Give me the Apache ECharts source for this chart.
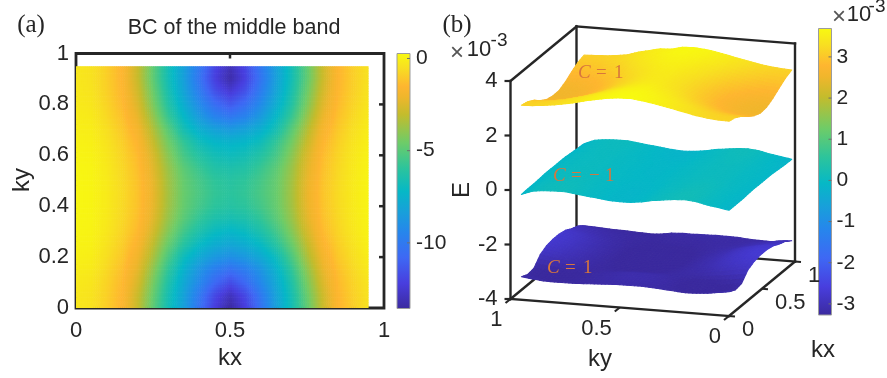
<!DOCTYPE html>
<html><head><meta charset="utf-8">
<style>html,body{margin:0;padding:0;background:#fff}#c{width:887px;height:378px}</style>
<script src="https://cdn.jsdelivr.net/npm/echarts@6/dist/echarts.min.js"></script>
</head><body><div id="c"></div>
<script>
// ---------- data ----------
const bcKx = [0,.05,.1,.15,.2,.25,.3,.35,.4,.45,.5,.55,.6,.65,.7,.75,.8,.85,.9,.95];
const bcKy = [0,.05,.1,.15,.2,.25,.3,.35,.4,.45,.5,.55,.6,.65,.7,.75,.8,.85,.9,.95];
const bcValues = [
[-.3,-.45,-.95,-1.6,-3,-4.9,-6.7,-8.3,-10.3,-12.2,-13.5,-12.2,-10.3,-8.3,-6.7,-4.9,-3,-1.6,-.95,-.45],
[-.28,-.42,-.9,-1.55,-2.9,-4.7,-6.6,-8.2,-10,-11.8,-12.9,-11.8,-10,-8.2,-6.6,-4.7,-2.9,-1.55,-.9,-.42],
[-.22,-.35,-.82,-1.45,-2.6,-4.4,-6.3,-7.9,-9.3,-10.7,-11.7,-10.7,-9.3,-7.9,-6.3,-4.4,-2.6,-1.45,-.82,-.35],
[-.12,-.22,-.7,-1.3,-2.3,-4,-5.9,-7.5,-8.8,-9.8,-10.4,-9.8,-8.8,-7.5,-5.9,-4,-2.3,-1.3,-.7,-.22],
[-.02,-.1,-.55,-1.1,-2,-3.5,-5.3,-6.9,-7.9,-8.6,-9,-8.6,-7.9,-6.9,-5.3,-3.5,-2,-1.1,-.55,-.1],
[.06,0,-.42,-.95,-1.7,-3.1,-4.7,-6.1,-7.1,-7.7,-8,-7.7,-7.1,-6.1,-4.7,-3.1,-1.7,-.95,-.42,0],
[.12,.05,-.3,-.8,-1.45,-2.7,-4.2,-5.5,-6.4,-7,-7.3,-7,-6.4,-5.5,-4.2,-2.7,-1.45,-.8,-.3,.05],
[.15,.08,-.24,-.72,-1.3,-2.4,-3.85,-5,-5.85,-6.4,-6.6,-6.4,-5.85,-5,-3.85,-2.4,-1.3,-.72,-.24,.08],
[.17,.1,-.2,-.67,-1.22,-2.25,-3.65,-4.75,-5.45,-5.95,-6.15,-5.95,-5.45,-4.75,-3.65,-2.25,-1.22,-.67,-.2,.1],
[.17,.1,-.2,-.65,-1.2,-2.2,-3.6,-4.7,-5.3,-5.8,-6,-5.8,-5.3,-4.7,-3.6,-2.2,-1.2,-.65,-.2,.1],
[.17,.1,-.2,-.67,-1.22,-2.25,-3.65,-4.75,-5.4,-5.9,-6.1,-5.9,-5.4,-4.75,-3.65,-2.25,-1.22,-.67,-.2,.1],
[.15,.08,-.24,-.72,-1.3,-2.4,-3.8,-4.95,-5.7,-6.25,-6.4,-6.25,-5.7,-4.95,-3.8,-2.4,-1.3,-.72,-.24,.08],
[.1,.03,-.3,-.8,-1.42,-2.6,-4.1,-5.4,-6.2,-6.7,-6.9,-6.7,-6.2,-5.4,-4.1,-2.6,-1.42,-.8,-.3,.03],
[.03,-.04,-.4,-.92,-1.6,-2.95,-4.5,-5.8,-6.8,-7.25,-7.4,-7.25,-6.8,-5.8,-4.5,-2.95,-1.6,-.92,-.4,-.04],
[-.05,-.12,-.52,-1.08,-1.85,-3.35,-5,-6.6,-7.6,-8.2,-8.5,-8.2,-7.6,-6.6,-5,-3.35,-1.85,-1.08,-.52,-.12],
[-.12,-.22,-.68,-1.25,-2.2,-3.85,-5.7,-7.2,-8.5,-9.5,-10,-9.5,-8.5,-7.2,-5.7,-3.85,-2.2,-1.25,-.68,-.22],
[-.2,-.32,-.8,-1.42,-2.5,-4.3,-6.2,-7.7,-9.2,-10.5,-11.3,-10.5,-9.2,-7.7,-6.2,-4.3,-2.5,-1.42,-.8,-.32],
[-.25,-.4,-.88,-1.52,-2.75,-4.6,-6.5,-8.1,-9.8,-11.5,-12.4,-11.5,-9.8,-8.1,-6.5,-4.6,-2.75,-1.52,-.88,-.4],
[-.28,-.44,-.93,-1.58,-2.95,-4.85,-6.7,-8.3,-10.2,-12.1,-13.3,-12.1,-10.2,-8.3,-6.7,-4.85,-2.95,-1.58,-.93,-.44],
[-.28,-.44,-.93,-1.58,-2.95,-4.85,-6.7,-8.3,-10,-11.9,-13,-11.9,-10,-8.3,-6.7,-4.85,-2.95,-1.58,-.93,-.44]
];
const surfKx = [0,.095,.19,.285,.38,.475,.57,.665,.76,.855,.95];
const surfKy = [0,.05,.1,.15,.2,.25,.3,.35,.4,.45,.5,.55,.6,.65,.7,.75,.8,.85,.9,.95];
const lowerBand = [
[-3.11,-3.23,-3.19,-2.88,-2.76,-2.71,-2.71,-2.76,-2.88,-2.97,-3.14],
[-3.17,-3.30,-3.26,-2.92,-2.79,-2.73,-2.73,-2.79,-2.92,-3.01,-3.19],
[-3.23,-3.34,-3.30,-2.99,-2.86,-2.81,-2.81,-2.86,-2.99,-3.08,-3.23],
[-3.26,-3.33,-3.30,-3.06,-2.95,-2.91,-2.91,-2.95,-3.06,-3.13,-3.22],
[-3.27,-3.31,-3.29,-3.13,-3.06,-3.03,-3.03,-3.06,-3.13,-3.18,-3.20],
[-3.24,-3.27,-3.26,-3.17,-3.14,-3.12,-3.12,-3.14,-3.17,-3.20,-3.17],
[-3.21,-3.21,-3.21,-3.20,-3.20,-3.20,-3.20,-3.20,-3.20,-3.20,-3.16],
[-3.18,-3.16,-3.17,-3.23,-3.26,-3.27,-3.27,-3.26,-3.23,-3.21,-3.16],
[-3.16,-3.12,-3.13,-3.25,-3.30,-3.32,-3.32,-3.30,-3.25,-3.22,-3.17],
[-3.16,-3.11,-3.12,-3.26,-3.31,-3.34,-3.34,-3.31,-3.26,-3.22,-3.18],
[-3.16,-3.11,-3.12,-3.26,-3.32,-3.35,-3.35,-3.32,-3.26,-3.22,-3.18],
[-3.18,-3.14,-3.15,-3.27,-3.32,-3.34,-3.34,-3.32,-3.27,-3.24,-3.20],
[-3.20,-3.17,-3.18,-3.27,-3.30,-3.32,-3.32,-3.30,-3.27,-3.24,-3.27],
[-3.22,-3.21,-3.21,-3.25,-3.26,-3.27,-3.27,-3.26,-3.25,-3.24,-3.29],
[-3.24,-3.25,-3.25,-3.22,-3.21,-3.20,-3.20,-3.21,-3.22,-3.23,-3.27],
[-3.25,-3.28,-3.27,-3.18,-3.14,-3.12,-3.12,-3.14,-3.18,-3.20,-3.25],
[-3.25,-3.30,-3.29,-3.12,-3.05,-3.02,-3.02,-3.05,-3.12,-3.17,-3.24],
[-3.24,-3.32,-3.29,-3.05,-2.95,-2.91,-2.91,-2.95,-3.05,-3.12,-3.22],
[-3.20,-3.30,-3.26,-2.98,-2.86,-2.81,-2.81,-2.86,-2.98,-3.06,-3.20],
[-3.15,-3.26,-3.22,-2.91,-2.78,-2.73,-2.73,-2.78,-2.91,-3.00,-3.18]
];
const middleBand = [
[-.12,-.12,-.12,-.10,-.08,-.09,-.09,-.09,-.12,-.14,-.15],
[-.05,-.05,-.06,-.05,-.04,-.05,-.05,-.05,-.07,-.07,-.08],
[.01,.01,0,0,0,-.01,-.01,-.01,-.02,-.02,-.02],
[.10,.10,.08,.07,.05,.04,.04,.04,.05,.06,.07],
[.14,.14,.12,.10,.07,.06,.06,.06,.08,.10,.11],
[.12,.12,.10,.08,.06,.05,.05,.05,.06,.08,.09],
[.07,.07,.05,.04,.03,.02,.02,.02,.02,.03,.04],
[.02,.02,.01,0,0,-.01,-.01,-.01,-.02,-.01,-.01],
[-.06,-.06,-.06,-.06,-.05,-.05,-.05,-.06,-.07,-.08,-.09],
[-.11,-.11,-.11,-.09,-.08,-.08,-.08,-.09,-.11,-.13,-.14],
[-.12,-.12,-.12,-.10,-.08,-.09,-.09,-.09,-.12,-.14,-.16],
[-.10,-.10,-.10,-.09,-.07,-.08,-.08,-.08,-.10,-.12,-.13],
[-.05,-.05,-.06,-.05,-.04,-.05,-.05,-.05,-.07,-.08,-.08],
[-.01,-.01,-.02,-.02,-.02,-.03,-.03,-.03,-.04,-.04,-.04],
[.04,.04,.03,.02,.01,0,0,0,0,.01,.01],
[.09,.09,.07,.06,.04,.03,.03,.03,.04,.05,.06],
[.09,.09,.07,.06,.04,.03,.03,.03,.04,.05,.06],
[.07,.07,.05,.04,.03,.02,.02,.02,.02,.03,.04],
[.02,.02,.01,0,0,-.01,-.01,-.01,-.02,-.01,-.01],
[-.13,-.12,-.12,-.10,-.08,-.09,-.09,-.09,-.12,-.15,-.17]
];
const upperBand = [
[3.15,3.09,2.95,2.75,2.59,2.50,2.53,2.66,2.85,3.02,3.13],
[3.16,3.11,2.96,2.77,2.61,2.53,2.55,2.68,2.86,3.04,3.15],
[3.20,3.15,3.01,2.83,2.67,2.59,2.62,2.74,2.92,3.08,3.19],
[3.26,3.21,3.08,2.92,2.77,2.70,2.72,2.83,3.00,3.15,3.25],
[3.34,3.30,3.18,3.03,2.90,2.83,2.85,2.95,3.10,3.24,3.33],
[3.43,3.39,3.28,3.15,3.04,2.98,3.00,3.09,3.21,3.34,3.41],
[3.51,3.48,3.39,3.27,3.18,3.13,3.14,3.22,3.33,3.44,3.50],
[3.59,3.56,3.48,3.39,3.30,3.26,3.27,3.34,3.43,3.52,3.58],
[3.65,3.62,3.56,3.47,3.40,3.36,3.37,3.43,3.51,3.59,3.64],
[3.70,3.67,3.61,3.54,3.47,3.44,3.45,3.50,3.57,3.64,3.67],
[3.69,3.66,3.60,3.53,3.46,3.43,3.44,3.49,3.56,3.63,3.65],
[3.65,3.62,3.56,3.47,3.40,3.36,3.37,3.43,3.51,3.58,3.55],
[3.58,3.55,3.47,3.38,3.29,3.25,3.26,3.33,3.42,3.50,3.53],
[3.50,3.47,3.38,3.27,3.18,3.13,3.14,3.22,3.33,3.42,3.44],
[3.40,3.37,3.27,3.14,3.03,2.97,2.99,3.08,3.20,3.31,3.35],
[3.32,3.29,3.17,3.02,2.89,2.82,2.84,2.94,3.09,3.21,3.22],
[3.25,3.20,3.07,2.91,2.76,2.69,2.71,2.82,2.99,3.13,3.16],
[3.20,3.14,3.00,2.82,2.66,2.58,2.61,2.73,2.91,3.06,3.12],
[3.16,3.10,2.96,2.76,2.60,2.53,2.55,2.67,2.86,3.02,3.10],
[3.14,3.08,2.94,2.74,2.59,2.53,2.54,2.66,2.84,3.00,3.08]
];
const heatTicksX = [0,.5,1];
const heatTicksY = [0,.2,.4,.6,.8,1];
const heatInnerTicks = [[.5,1,0,1],[1,.2,1,0],[1,.4,1,0],[1,.6,1,0],[1,.8,1,0]];
const heatBarTicks = [-10,-5,0];
const energyBarTicks = [-3,-2,-1,0,1,2,3];
const heatRange = [-13.56,.27];
const energyRange = [-3.27,3.69];
const eTicks = [-4,-2,0,2,4];
const kTicks = [0,.5,1];

// ---------- style ----------
const INK='#262626', SANS='"Liberation Sans",Arial,sans-serif', SERIF='"Liberation Serif",serif', FS=22;
const ramp=[[0,[59,42,158]],[.1,[72,62,222]],[.2,[62,104,244]],[.3,[38,134,236]],[.38,[24,160,218]],
[.46,[6,184,198]],[.55,[44,196,156]],[.65,[110,204,104]],[.76,[196,188,44]],[.83,[240,182,44]],
[.87,[254,182,48]],[.94,[248,222,34]],[1,[248,250,16]]];
function tone(t){t=Math.max(0,Math.min(1,t));
  for(let k=1;k<ramp.length;k++){ if(t<=ramp[k][0]){const a=ramp[k-1],b=ramp[k],f=(t-a[0])/(b[0]-a[0]);
    return 'rgb('+[0,1,2].map(c=>Math.round(a[1][c]+f*(b[1][c]-a[1][c]))).join(',')+')';}}
  return 'rgb(248,250,16)';}
const norm=(v,r)=>(v-r[0])/(r[1]-r[0]);
const barGradient=()=>new echarts.graphic.LinearGradient(0,1,0,0,ramp.map(s=>({offset:s[0],color:tone(s[0])})));

// shaded heatmap cell: the colour is blended between the four sample corners
function heatCell(params,api){
  const i=api.value(0), j=api.value(1), NX=8, NY=5, kids=[];
  const x0=bcKx[i],x1=bcKx[i+1],y0=bcKy[j],y1=bcKy[j+1];
  const a=bcValues[j][i],b=bcValues[j][i+1],c=bcValues[j+1][i],d=bcValues[j+1][i+1];
  for(let u=0;u<NX;u++)for(let w=0;w<NY;w++){
    const s=(u+.5)/NX,t=(w+.5)/NY,v=(a*(1-s)+b*s)*(1-t)+(c*(1-s)+d*s)*t;
    const p=api.coord([x0+(x1-x0)*u/NX,y0+(y1-y0)*(w+1)/NY]), q=api.coord([x0+(x1-x0)*(u+1)/NX,y0+(y1-y0)*w/NY]);
    const over=(i<bcKx.length-2||u<NX-1)?.6:0, up=(j<bcKy.length-2||w<NY-1)?.6:0;
    kids.push({type:'rect',shape:{x:p[0],y:p[1]-up,width:q[0]-p[0]+over,height:q[1]-p[1]+up},style:{fill:tone(norm(v,heatRange))}});
  }
  return {type:'group',children:kids};
}
// oblique projection of the 3-D box on to the panel's own plane
const O=[729,316],VX=[66,-54.5],VY=[-218.5,-17],VZ=[0,-27.25];
const proj=(kx,ky,e)=>[O[0]+kx*VX[0]+ky*VY[0],O[1]+kx*VX[1]+ky*VY[1]+(e+4)*VZ[1]];
const bands=[lowerBand,middleBand,upperBand];
function surfCell(params,api){
  const g=bands[api.value(0)],i=api.value(1),j=api.value(2),N=3,kids=[];
  const kx=[surfKx[i],surfKx[i+1]],ky=[surfKy[j],surfKy[j+1]];
  const val=(s,t)=>(g[j][i]*(1-s)+g[j][i+1]*s)*(1-t)+(g[j+1][i]*(1-s)+g[j+1][i+1]*s)*t;
  const pt=(s,t)=>api.coord(proj(kx[0]+(kx[1]-kx[0])*s,ky[0]+(ky[1]-ky[0])*t,val(s,t)));
  for(let u=N-1;u>=0;u--)for(let w=N-1;w>=0;w--){
    const s0=u/N,s1=(u+1)/N,t0=w/N,t1=(w+1)/N,col=tone(norm(val((s0+s1)/2,(t0+t1)/2),energyRange));
    kids.push({type:'polygon',shape:{points:[pt(s0,t0),pt(s1,t0),pt(s1,t1),pt(s0,t1)]},style:{fill:col,stroke:col,lineWidth:1.1,lineJoin:'round'}});
  }
  return {type:'group',children:kids};
}
const heatCells=[];for(let j=0;j<bcKy.length-1;j++)for(let i=0;i<bcKx.length-1;i++)heatCells.push([i,j]);
const surfCells=[];for(let b=0;b<3;b++)for(let i=surfKx.length-2;i>=0;i--)for(let j=surfKy.length-2;j>=0;j--)surfCells.push([b,i,j]);

// box edges: [kx,ky,E,kx,ky,E]
const boxEdges=[[1,1,-4,1,1,4],[1,1,4,1,0,4],[1,0,4,1,0,-4],[1,1,-4,1,0,-4],[0,1,-4,1,1,-4],[0,0,-4,1,0,-4],
[0,1,4,1,1,4],[0,1,-4,0,1,4],[0,1,-4,0,0,-4]];
function boxEdge(params,api){
  const a=api.coord(proj(api.value(0),api.value(1),api.value(2))),b=api.coord(proj(api.value(3),api.value(4),api.value(5)));
  return {type:'line',shape:{x1:a[0],y1:a[1],x2:b[0],y2:b[1]},style:{stroke:INK,lineWidth:2.4,lineCap:'square'}};
}
const axisMarks=[...eTicks.map(v=>['e',v]),...kTicks.map(v=>['y',v]),...kTicks.map(v=>['x',v])];
function axisMark(params,api){
  const kind=axisMarks[params.dataIndex][0],v=axisMarks[params.dataIndex][1];
  let p,d,off,align;
  if(kind==='e'){p=proj(0,1,v);d=[-6,0];off=[-13,0];align='right';}
  else if(kind==='y'){p=proj(0,v,-4);d=[-5,4];off=[-8,21];align='right';}
  else {p=proj(v,0,-4);d=[6,.5];off=[13,14];align='left';}
  const a=api.coord(p),b=api.coord([p[0]+d[0],p[1]+d[1]]),c=api.coord([p[0]+off[0],p[1]+off[1]]);
  return {type:'group',children:[
    {type:'line',shape:{x1:a[0],y1:a[1],x2:b[0],y2:b[1]},style:{stroke:INK,lineWidth:2.2}},
    {type:'text',x:c[0],y:c[1],style:{text:String(v),font:FS+'px '+SANS,fill:INK,align:align,verticalAlign:'middle'}}]};
}
function barRect(params,api){
  const a=api.coord([0,api.value(0)]),b=api.coord([1,api.value(1)]);
  return {type:'rect',shape:{x:a[0],y:b[1],width:b[0]-a[0],height:a[1]-b[1]},style:{fill:barGradient(),stroke:'#9c9c9c',lineWidth:1}};
}
function barTick(params,api){
  const a=api.coord([1,api.value(0)]);
  return {type:'line',shape:{x1:a[0]-3,y1:a[1],x2:a[0],y2:a[1]},style:{stroke:'#6f6f6f',lineWidth:1}};
}
function innerTick(params,api){
  const a=api.coord([api.value(0),api.value(1)]);
  return {type:'line',shape:{x1:a[0],y1:a[1],x2:a[0]-5*api.value(2),y2:a[1]+5*api.value(3)},style:{stroke:INK,lineWidth:2.5}};
}
const T=(x,y,text,size,extra)=>({type:'text',x:x,y:y,silent:true,style:Object.assign({text:text,font:size+'px '+SANS,fill:INK,align:'center',verticalAlign:'middle'},extra||{})});
const cFont=19, cCol='#D8763C';
const cPart=(x,y,text,style)=>({type:'text',x:x,y:y,silent:true,style:{text:text,font:(style||'')+cFont+'px '+SERIF,fill:cCol,align:'left',verticalAlign:'middle'}});
const cLabel=(x,y,parts)=>[cPart(x,y,'C','italic '),...parts.map(p=>cPart(x+p[0],y,p[1]))];
const hidden={show:false};
const common={animation:false,silent:true,progressive:0};
const option={
  animation:false,
  backgroundColor:'#fff',
  grid:[
    {left:76,top:53.5,width:308,height:254.5,show:true,borderColor:INK,borderWidth:2.8,backgroundColor:'transparent'},
    {left:397,top:53.5,width:13,height:255},
    {left:818.5,top:28.5,width:13,height:286.5},
    {left:0,top:0,width:887,height:378}
  ],
  xAxis:[
    {gridIndex:0,type:'value',min:0,max:1,position:'bottom',splitLine:hidden,axisLine:hidden,axisTick:hidden,
      axisLabel:{customValues:heatTicksX,fontFamily:SANS,fontSize:FS,color:INK,margin:12,hideOverlap:false}},
    {gridIndex:1,type:'value',min:0,max:1,show:false},
    {gridIndex:2,type:'value',min:0,max:1,show:false},
    {gridIndex:3,type:'value',min:0,max:887,show:false}
  ],
  yAxis:[
    {gridIndex:0,type:'value',min:0,max:1,position:'left',splitLine:hidden,axisLine:hidden,axisTick:hidden,
      axisLabel:{customValues:heatTicksY,fontFamily:SANS,fontSize:FS,color:INK,margin:7}},
    {gridIndex:1,type:'value',min:heatRange[0],max:heatRange[1],position:'right',splitLine:hidden,
      axisLine:hidden,axisTick:hidden,
      axisLabel:{customValues:heatBarTicks,fontFamily:SANS,fontSize:FS-1,color:INK,margin:6}},
    {gridIndex:2,type:'value',min:energyRange[0],max:energyRange[1],position:'right',splitLine:hidden,
      axisLine:hidden,axisTick:hidden,
      axisLabel:{customValues:energyBarTicks,fontFamily:SANS,fontSize:FS-1,color:INK,margin:5}},
    {gridIndex:3,type:'value',min:0,max:378,inverse:true,show:false}
  ],
  series:[
    Object.assign({type:'custom',xAxisIndex:0,yAxisIndex:0,renderItem:heatCell,data:heatCells,clip:false,z:2},common),
    Object.assign({type:'custom',xAxisIndex:0,yAxisIndex:0,renderItem:innerTick,data:heatInnerTicks,clip:false,z:3},common),
    Object.assign({type:'custom',xAxisIndex:1,yAxisIndex:1,renderItem:barRect,data:[heatRange],z:2},common),
    Object.assign({type:'custom',xAxisIndex:1,yAxisIndex:1,renderItem:barTick,data:heatBarTicks.map(v=>[v]),z:3},common),
    Object.assign({type:'custom',xAxisIndex:2,yAxisIndex:2,renderItem:barRect,data:[energyRange],z:2},common),
    Object.assign({type:'custom',xAxisIndex:2,yAxisIndex:2,renderItem:barTick,data:energyBarTicks.map(v=>[v]),z:3},common),
    Object.assign({type:'custom',xAxisIndex:3,yAxisIndex:3,renderItem:boxEdge,data:boxEdges,clip:false,z:3},common),
    Object.assign({type:'custom',xAxisIndex:3,yAxisIndex:3,renderItem:axisMark,data:axisMarks.map((m,i)=>[i]),clip:false,z:3},common),
    Object.assign({type:'custom',xAxisIndex:3,yAxisIndex:3,renderItem:surfCell,data:surfCells,clip:false,z:4},common)
  ],
  graphic:{elements:[
    T(31,25,'(a)',25,{font:'25px '+SERIF}),
    T(457,25,'(b)',25,{font:'25px '+SERIF}),
    T(234,28,'BC of the middle band',21.5),
    T(230,358,'kx',24),
    Object.assign(T(22,180,'ky',24),{rotation:Math.PI/2}),
    T(600,359,'ky',24),
    T(823,350,'kx',24),
    Object.assign(T(462,190,'E',24),{rotation:Math.PI/2}),
    T(457,53,'\u00d7',24,{fill:'#555'}), T(479,50,'10',FS), T(499,41,'-3',FS-3),
    T(839,17,'\u00d7',24,{fill:'#555'}), T(859,15,'10',FS), T(877,7,'-3',FS-3),
    ...cLabel(578,73,[[18,'='],[36,'1']]), ...cLabel(553,176,[[18,'='],[36,'\u2212'],[52,'1']]), ...cLabel(547,268,[[18,'='],[36,'1']])
  ].map(e=>Object.assign(e,{z:20}))}
};
const chart=echarts.init(document.getElementById('c'),null,{renderer:'canvas'});
chart.setOption(option);
</script></body></html>
